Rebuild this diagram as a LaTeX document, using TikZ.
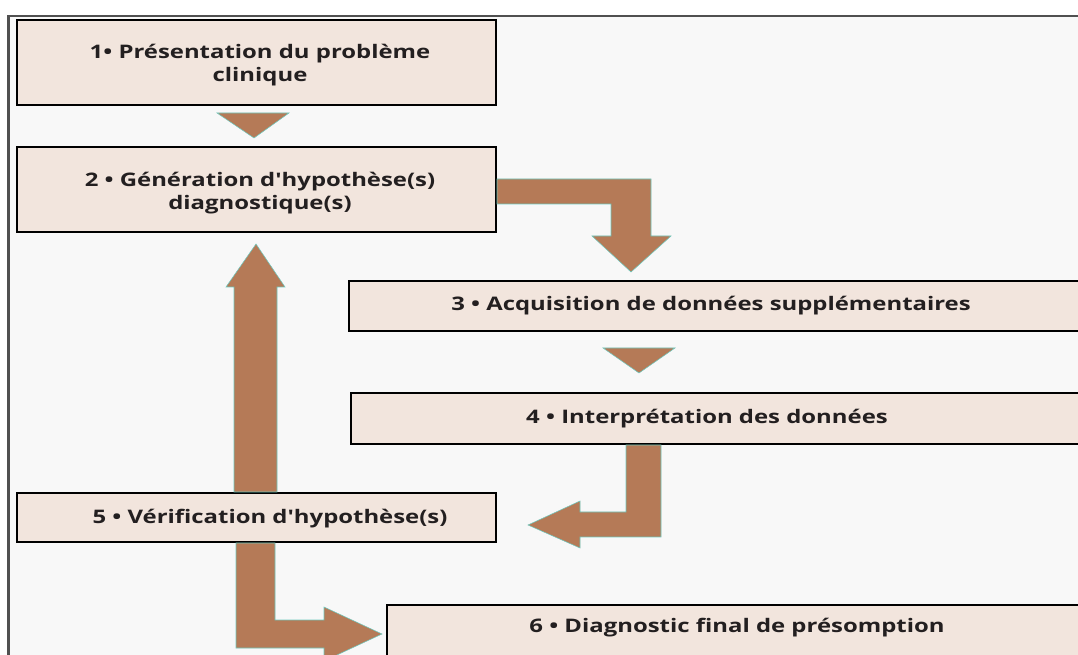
\documentclass[tikz,border=0pt]{standalone}
\usepackage{fontspec}
\setmainfont{Open Sans}[FakeStretch=1.28, Ligatures=TeXOff]
\usetikzlibrary{fit}
\definecolor{boxfill}{RGB}{242,229,221}
\definecolor{arrowc}{RGB}{181,122,87}
\definecolor{edgec}{RGB}{110,200,190}
\definecolor{framebg}{RGB}{248,248,248}
\definecolor{framec}{RGB}{80,80,80}
\definecolor{txtc}{RGB}{35,31,32}
\begin{document}
\begin{tikzpicture}[x=0.75pt,y=-0.75pt,
  boxnode/.style={draw=black, line width=2.2pt, fill=boxfill, inner sep=0pt},
  lbl/.style={text=txtc, font=\bfseries\fontsize{14}{17.25}\selectfont, align=center, inner sep=0pt},
  blockarrow/.style={fill=arrowc, draw=edgec, line width=0.4pt, line join=miter}]
\useasboundingbox (0,0) rectangle (1078,655);
\clip (0,0) rectangle (1078,655);
\fill[white] (0,0) rectangle (1078,655);
% frame
\fill[framebg] (8,15) rectangle (1090,670);
\draw[framec, line width=1.6pt] (8.5,700) -- (8.5,16) -- (1090,16);
% boxes
\node[boxnode, fit={(17,20) (496,105)}] (b1) {};
\node[boxnode, fit={(17,147) (496,232)}] (b2) {};
\node[boxnode, fit={(349,281) (1095,331)}] (b3) {};
\node[boxnode, fit={(351,393) (1095,444)}] (b4) {};
\node[boxnode, fit={(17,493) (496,542)}] (b5) {};
\node[boxnode, fit={(387,605) (1095,680)}] (b6) {};
% labels
\node[lbl] (t1) at (260,65.5) {1• Présentation du problème\\clinique};
\node[lbl] (t2) at (260,193) {2 • Génération d'hypothèse(s)\\diagnostique(s)};
\node[lbl, anchor=base] (t3) at (711,311) {3 • Acquisition de données supplémentaires};
\node[lbl, anchor=base] (t4) at (707,424) {4 • Interprétation des données};
\node[lbl, anchor=base] (t5) at (270,523) {5 • Vérification d'hypothèse(s)};
\node[lbl, anchor=base] (t6) at (737,632) {6 • Diagnostic final de présomption};
% arrows
\path[blockarrow] (217,113) -- (289,113) -- (254,138) -- cycle;
\path[blockarrow] (497,179) -- (651,179) -- (651,236) -- (671,236) -- (631,272) -- (592,236) -- (611,236) -- (611,204) -- (497,204) -- cycle;
\path[blockarrow] (603,348) -- (675,348) -- (639,373) -- cycle;
\path[blockarrow] (661,445) -- (661,537) -- (580,537) -- (580,548) -- (528,525) -- (580,501) -- (580,512) -- (626,512) -- (626,445) -- cycle;
\path[blockarrow] (234,492) -- (234,287) -- (226,287) -- (256,244) -- (285,287) -- (277,287) -- (277,492) -- cycle;
\path[blockarrow] (236,543) -- (236,648) -- (324,648) -- (324,661) -- (382,634) -- (324,607) -- (324,620) -- (275,620) -- (275,543) -- cycle;
\end{tikzpicture}
\end{document}
